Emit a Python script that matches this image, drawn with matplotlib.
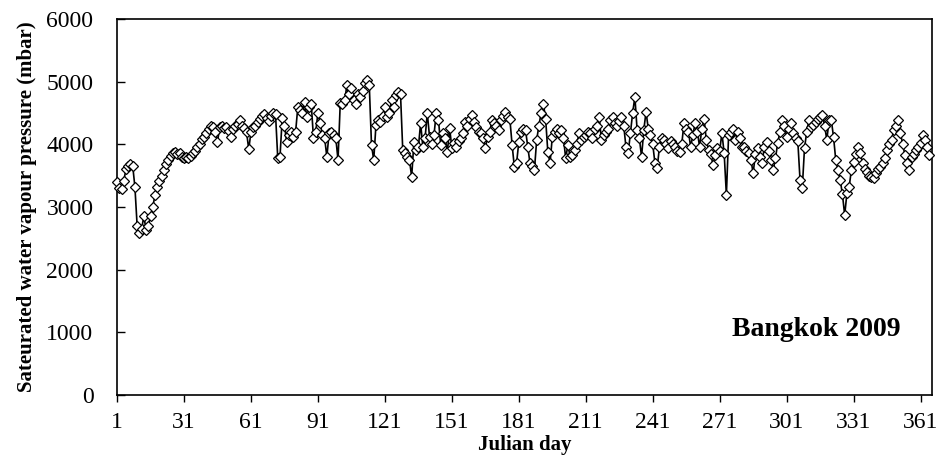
import numpy as np
import matplotlib
matplotlib.use('Agg')
import matplotlib.pyplot as plt

plt.rcParams['font.family'] = ['Liberation Serif', 'DejaVu Serif']

## daily saturated water vapour pressure, Bangkok 2009
pressure = [
    3400, 3300, 3280, 3420, 3600, 3650, 3690, 3660, 3320, 2700,
    2580, 2650, 2850, 2640, 2700, 2860, 3000, 3190, 3320, 3420,
    3500, 3590, 3680, 3750, 3820, 3860, 3880, 3840, 3860, 3800,
    3790, 3800, 3780, 3820, 3860, 3900, 3950, 4000, 4080, 4120,
    4180, 4250, 4300, 4270, 4200, 4040, 4280, 4300, 4260, 4280,
    4220, 4120, 4250, 4300, 4330, 4390, 4300, 4260, 4200, 3920,
    4200, 4280, 4300, 4350, 4400, 4450, 4480, 4420, 4380, 4450,
    4500, 4480, 3780, 3800, 4420, 4300, 4040, 4150, 4200, 4120,
    4200, 4600, 4550, 4500, 4680, 4440, 4600, 4650, 4100, 4200,
    4500, 4340, 4150, 4100, 3800, 4180, 4200, 4150, 4100, 3750,
    4660, 4650, 4700, 4950, 4800, 4900, 4700, 4650, 4800, 4750,
    4850, 4980, 5030, 4950, 3990, 3750, 4310, 4390, 4350, 4450,
    4600, 4440, 4500, 4710, 4600, 4780, 4840, 4800, 3910, 3860,
    3800, 3750, 3480, 4040, 3910, 3950, 4340, 3960, 4100, 4500,
    4120, 4000, 4150, 4500, 4390, 3990, 4180, 4100, 3880, 4260,
    3940, 4020, 3960, 4050, 4100, 4180, 4360, 4300, 4400, 4470,
    4350, 4280, 4200, 4180, 4100, 3940, 4120, 4200, 4390, 4340,
    4300, 4230, 4390, 4450, 4520, 4440, 4400, 3990, 3640, 3700,
    4040, 4200, 4250, 4230, 3960, 3700, 3650, 3590, 4070, 4300,
    4500, 4650, 4410, 3880, 3700, 4120, 4200, 4250, 4180, 4230,
    4100, 3780, 3990, 3800, 3830, 3910, 4000, 4180, 4070, 4120,
    4150, 4200, 4180, 4100, 4250, 4300, 4440, 4070, 4150, 4200,
    4250, 4390, 4440, 4340, 4300, 4380, 4440, 4300, 3960, 3860,
    4180, 4500, 4760, 4230, 4100, 3800, 4230, 4520, 4250, 4150,
    4000, 3700, 3620, 3960, 4100, 4070, 4000, 3940, 4050, 4000,
    3950, 3900, 3880, 4000, 4340, 4250, 4200, 3960, 4150, 4340,
    4200, 3960, 4250, 4410, 4070, 3910, 3850, 3670, 3830, 3940,
    3900, 4180, 3860, 3190, 4150, 4200, 4250, 4070, 4200, 4100,
    3960, 3950, 3900, 3860, 3750, 3540, 3850, 3940, 3800, 3700,
    3960, 4040, 3900, 3750, 3590, 3780, 4020, 4200, 4390, 4300,
    4120, 4250, 4340, 4180, 4100, 4050, 3430, 3300, 3940, 4200,
    4390, 4280, 4310, 4350, 4400, 4440, 4470, 4300, 4070, 4390,
    4390, 4120, 3750, 3590, 3430, 3200, 2870, 3220, 3320, 3590,
    3720, 3850, 3960, 3860, 3700, 3600, 3560, 3500, 3480, 3460,
    3540, 3600, 3640, 3700, 3780, 3910, 4000, 4070, 4230, 4300,
    4390, 4180, 4000, 3830, 3700, 3590, 3800, 3850, 3910, 3950,
    4020, 4150, 4070, 3950, 3830,
]
days = np.arange(1, len(pressure) + 1)
x_ticks = list(range(1, 362, 30))
y_ticks = list(range(0, 6001, 1000))

fig = plt.figure(figsize=(9.44, 4.59), dpi=100)
ax = fig.add_axes([0.124, 0.1394, 0.863, 0.8192])

ax.plot(days, pressure, color='black', lw=1.2, marker='D', markersize=5.5,
        markerfacecolor='white', markeredgecolor='black', markeredgewidth=0.9,
        clip_on=False, zorder=3)

ax.set_xlim(1, 366)
ax.set_ylim(0, 6000)
ax.set_xticks(x_ticks)
ax.set_yticks(y_ticks)
ax.tick_params(axis='x', direction='out', length=5, width=1, pad=7, labelsize=17)
ax.tick_params(axis='y', direction='in', length=6, width=1, pad=17, labelsize=17)
for sp in ax.spines.values():
    sp.set_linewidth(1.2)

ax.set_xlabel('Julian day', fontsize=15, fontweight='bold', labelpad=2)
ax.set_ylabel('Sateurated water vapour pressure (mbar)', fontsize=15,
              fontweight='bold', labelpad=7)

ax.text(0.858, 0.173, 'Bangkok 2009', transform=ax.transAxes, fontsize=20,
        fontweight='bold', ha='center', va='center')

fig.savefig('out.png', dpi=100)
